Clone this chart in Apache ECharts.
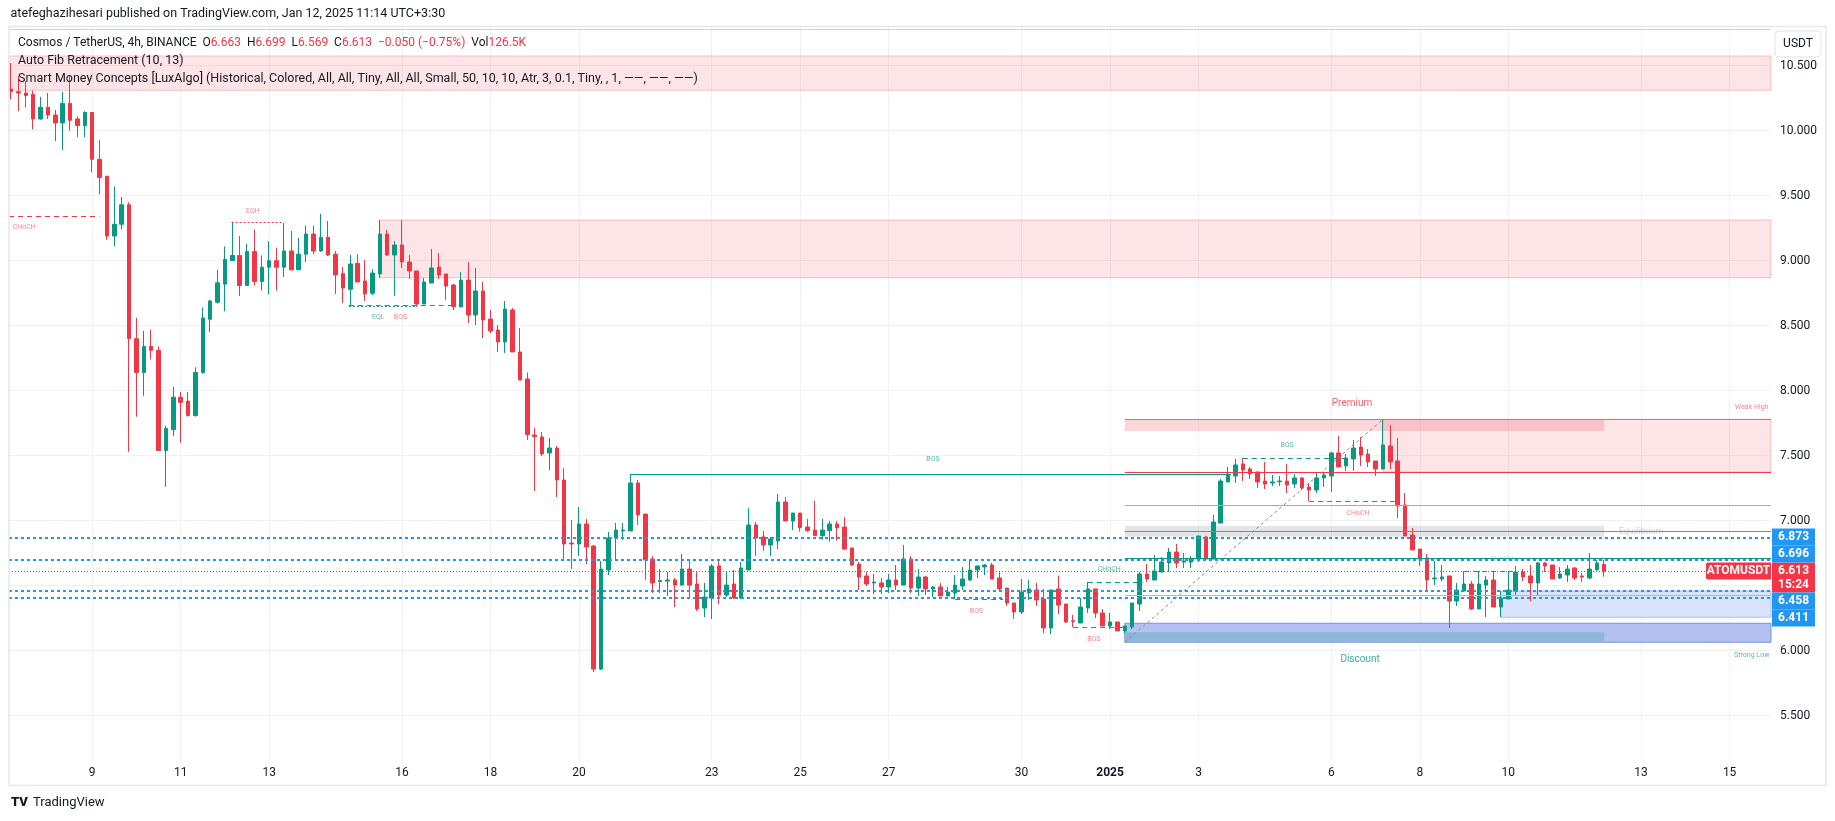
<!DOCTYPE html>
<html>
<head>
<meta charset="utf-8">
<title>ATOMUSDT 4h</title>
<script src="https://cdn.jsdelivr.net/npm/echarts@6/dist/echarts.min.js"></script>
<style>
  html, body { margin: 0; padding: 0; background: #ffffff; }
  #chart { width: 1835px; height: 821px; }
</style>
</head>
<body>
<div id="chart"></div>
<script>
// 4h candles, index 0 = first bar at the left edge
const opens = [
  10.32, 10.30, 10.29, 10.28, 10.09, 10.18, 10.12, 10.06, 10.21, 10.09,
  10.04, 10.14, 9.78, 9.65, 9.19, 9.28, 9.43, 8.40, 8.14, 8.34,
  8.31, 7.54, 7.70, 7.95, 7.92, 7.81, 8.14, 8.55, 8.68, 8.82,
  9.00, 9.04, 8.81, 9.07, 8.84, 8.95, 9.00, 8.95, 9.075, 8.93,
  9.05, 9.205, 9.075, 9.18, 9.05, 8.90, 8.78, 8.98, 8.844, 8.75,
  8.898, 9.205, 9.044, 9.121, 8.99, 8.921, 8.667, 8.828, 8.951, 8.898,
  8.813, 8.644, 8.851, 8.582, 8.767, 8.551, 8.467, 8.375, 8.621, 8.298,
  8.090, 7.659, 7.644, 7.521, 7.559, 7.313, 6.828, 6.821, 6.975, 6.805,
  5.859, 6.621, 6.867, 6.921, 6.921, 7.290, 7.051, 6.705, 6.533, 6.536,
  6.544, 6.505, 6.628, 6.513, 6.328, 6.405, 6.651, 6.428, 6.513, 6.405,
  6.621, 6.967, 6.875, 6.813, 6.844, 7.144, 6.998, 7.059, 6.951, 6.928,
  6.885, 6.923, 6.975, 6.951, 6.790, 6.667, 6.575, 6.521, 6.521, 6.490,
  6.544, 6.505, 6.705, 6.482, 6.567, 6.475, 6.490, 6.421, 6.444, 6.498,
  6.544, 6.621, 6.644, 6.659, 6.559, 6.482, 6.367, 6.298, 6.444, 6.467,
  6.398, 6.175, 6.475, 6.359, 6.230, 6.213, 6.328, 6.475, 6.290, 6.190,
  6.221, 6.152, 6.182, 6.359, 6.590, 6.544, 6.605, 6.675, 6.759, 6.682,
  6.682, 6.705, 6.875, 6.705, 6.982, 7.298, 7.344, 7.436, 7.398, 7.375,
  7.305, 7.290, 7.300, 7.305, 7.282, 7.329, 7.259, 7.236, 7.329, 7.344,
  7.521, 7.421, 7.475, 7.567, 7.513, 7.459, 7.398, 7.575, 7.459, 7.121,
  6.890, 6.782, 6.713, 6.552, 6.552, 6.575, 6.382, 6.459, 6.513, 6.321,
  6.505, 6.544, 6.336, 6.398, 6.459, 6.605, 6.575, 6.521, 6.675, 6.659,
  6.559, 6.582, 6.636, 6.575, 6.559, 6.621, 6.663
];
const highs = [
  10.52, 10.42, 10.38, 10.31, 10.26, 10.29, 10.16, 10.30, 10.42, 10.11,
  10.15, 10.14, 9.93, 9.65, 9.57, 9.49, 9.45, 8.56, 8.46, 8.47,
  8.34, 7.73, 8.03, 7.99, 7.99, 8.18, 8.64, 8.70, 8.93, 9.11,
  9.30, 9.19, 9.13, 9.24, 9.04, 9.15, 9.10, 9.29, 9.23, 9.175,
  9.27, 9.27, 9.36, 9.305, 9.075, 8.95, 9.044, 9.05, 9.005, 8.936,
  9.313, 9.236, 9.151, 9.313, 9.044, 8.921, 8.867, 9.090, 9.059, 8.898,
  8.821, 8.913, 8.990, 8.944, 8.836, 8.621, 8.505, 8.690, 8.636, 8.482,
  8.140, 7.713, 7.682, 7.636, 7.575, 7.405, 7.005, 7.105, 7.013, 6.813,
  6.690, 6.913, 6.982, 6.982, 7.359, 7.313, 7.051, 6.728, 6.628, 6.605,
  6.559, 6.744, 6.705, 6.605, 6.521, 6.667, 6.690, 6.605, 6.621, 6.682,
  7.098, 6.990, 6.921, 6.875, 7.205, 7.182, 7.059, 7.059, 7.013, 7.152,
  7.013, 6.998, 6.998, 7.028, 6.790, 6.682, 6.605, 6.590, 6.559, 6.590,
  6.659, 6.813, 6.728, 6.628, 6.575, 6.498, 6.521, 6.490, 6.582, 6.644,
  6.690, 6.652, 6.667, 6.675, 6.605, 6.482, 6.367, 6.551, 6.544, 6.521,
  6.475, 6.467, 6.575, 6.359, 6.275, 6.405, 6.528, 6.475, 6.321, 6.290,
  6.221, 6.190, 6.367, 6.605, 6.667, 6.736, 6.721, 6.790, 6.821, 6.751,
  6.728, 6.882, 6.882, 7.044, 7.321, 7.413, 7.475, 7.482, 7.413, 7.375,
  7.452, 7.352, 7.344, 7.436, 7.359, 7.336, 7.290, 7.375, 7.375, 7.530,
  7.652, 7.513, 7.621, 7.644, 7.552, 7.459, 7.782, 7.736, 7.636, 7.213,
  6.944, 6.782, 6.744, 6.690, 6.659, 6.575, 6.521, 6.613, 6.536, 6.613,
  6.575, 6.613, 6.459, 6.613, 6.651, 6.628, 6.659, 6.682, 6.682, 6.659,
  6.644, 6.659, 6.644, 6.598, 6.751, 6.698, 6.699
];
const lows = [
  10.24, 10.15, 10.18, 10.01, 10.085, 10.09, 9.92, 9.85, 10.00, 9.95,
  9.95, 9.68, 9.51, 9.16, 9.11, 9.24, 7.53, 7.80, 7.96, 8.24,
  7.54, 7.26, 7.65, 7.60, 7.80, 7.80, 8.13, 8.45, 8.67, 8.61,
  9.00, 8.73, 8.81, 8.81, 8.77, 8.74, 8.77, 8.875, 8.925, 8.93,
  8.99, 9.05, 9.067, 9.036, 8.744, 8.675, 8.66, 8.836, 8.690, 8.736,
  8.867, 9.036, 8.728, 8.944, 8.859, 8.644, 8.667, 8.828, 8.859, 8.698,
  8.621, 8.644, 8.521, 8.505, 8.405, 8.444, 8.298, 8.290, 8.298, 8.082,
  7.621, 7.229, 7.498, 7.390, 7.182, 6.698, 6.628, 6.728, 6.667, 5.836,
  5.851, 6.582, 6.705, 6.852, 6.921, 6.967, 6.544, 6.444, 6.444, 6.421,
  6.336, 6.505, 6.413, 6.305, 6.259, 6.244, 6.359, 6.413, 6.398, 6.398,
  6.621, 6.728, 6.767, 6.728, 6.782, 6.998, 6.928, 6.915, 6.915, 6.885,
  6.854, 6.839, 6.846, 6.775, 6.652, 6.467, 6.498, 6.436, 6.436, 6.444,
  6.467, 6.505, 6.444, 6.421, 6.428, 6.413, 6.421, 6.421, 6.398, 6.467,
  6.536, 6.559, 6.582, 6.551, 6.467, 6.344, 6.244, 6.282, 6.390, 6.344,
  6.136, 6.128, 6.282, 6.213, 6.182, 6.213, 6.290, 6.252, 6.190, 6.167,
  6.152, 6.136, 6.167, 6.305, 6.528, 6.544, 6.605, 6.605, 6.636, 6.636,
  6.636, 6.682, 6.705, 6.705, 6.982, 7.298, 7.290, 7.305, 7.321, 7.252,
  7.244, 7.267, 7.267, 7.213, 7.252, 7.236, 7.152, 7.213, 7.259, 7.221,
  7.413, 7.382, 7.382, 7.421, 7.413, 7.344, 7.398, 7.398, 7.021, 6.882,
  6.775, 6.652, 6.467, 6.505, 6.536, 6.175, 6.344, 6.452, 6.313, 6.321,
  6.259, 6.336, 6.259, 6.398, 6.421, 6.536, 6.382, 6.428, 6.605, 6.552,
  6.552, 6.528, 6.544, 6.528, 6.552, 6.621, 6.569
];
const closes = [
  10.30, 10.29, 10.27, 10.09, 10.18, 10.12, 10.06, 10.21, 10.08, 10.04,
  10.14, 9.78, 9.64, 9.19, 9.28, 9.43, 8.40, 8.14, 8.34, 8.31,
  7.54, 7.71, 7.95, 7.91, 7.81, 8.14, 8.56, 8.69, 8.83, 9.01,
  9.04, 8.81, 9.07, 8.84, 8.95, 9.00, 8.95, 9.075, 8.93, 9.05,
  9.205, 9.075, 9.18, 9.044, 8.89, 8.79, 8.975, 8.836, 8.744, 8.905,
  9.205, 9.044, 9.121, 8.990, 8.921, 8.667, 8.836, 8.944, 8.890, 8.805,
  8.646, 8.851, 8.582, 8.767, 8.544, 8.459, 8.375, 8.628, 8.298, 8.082,
  7.662, 7.647, 7.513, 7.559, 7.313, 6.821, 6.821, 6.975, 6.798, 5.859,
  6.628, 6.867, 6.928, 6.928, 7.290, 7.044, 6.698, 6.521, 6.540, 6.544,
  6.505, 6.628, 6.505, 6.321, 6.413, 6.651, 6.428, 6.505, 6.405, 6.636,
  6.967, 6.867, 6.813, 6.859, 7.144, 6.998, 7.059, 6.946, 6.923, 6.885,
  6.928, 6.975, 6.946, 6.782, 6.659, 6.567, 6.513, 6.528, 6.490, 6.544,
  6.505, 6.705, 6.482, 6.567, 6.475, 6.490, 6.421, 6.451, 6.505, 6.551,
  6.621, 6.652, 6.659, 6.551, 6.475, 6.367, 6.298, 6.451, 6.475, 6.390,
  6.175, 6.467, 6.351, 6.221, 6.225, 6.336, 6.475, 6.290, 6.190, 6.221,
  6.152, 6.190, 6.367, 6.590, 6.552, 6.613, 6.682, 6.759, 6.675, 6.690,
  6.705, 6.882, 6.705, 6.990, 7.305, 7.359, 7.429, 7.390, 7.359, 7.298,
  7.282, 7.298, 7.305, 7.275, 7.329, 7.252, 7.236, 7.329, 7.352, 7.521,
  7.413, 7.482, 7.559, 7.505, 7.452, 7.398, 7.582, 7.452, 7.113, 6.882,
  6.775, 6.705, 6.544, 6.559, 6.567, 6.382, 6.467, 6.513, 6.321, 6.513,
  6.544, 6.336, 6.405, 6.467, 6.605, 6.567, 6.521, 6.675, 6.651, 6.552,
  6.590, 6.628, 6.559, 6.567, 6.628, 6.675, 6.613
];

// time scale: bar index of each day tick and its label
const dayTicks = [11, 23, 35, 53, 65, 77, 95, 107, 119, 137, 149, 161, 179, 191, 203, 221, 233];
const dayLabels = ['9', '11', '13', '16', '18', '20', '23', '25', '27', '30', '2025', '3', '6', '8', '10', '13', '15'];
const priceTicks = [5.5, 6, 6.5, 7, 7.5, 8, 8.5, 9, 9.5, 10, 10.5];

// levels drawn over the whole width
const fibLevels = [6.873, 6.696, 6.458, 6.411];
const lastPrice = 6.613;
const countdown = '15:24';

// smart money concepts: structure breaks [fromBar, toBar, price, text, side, labelBar, labelPrice]
const structures = [
  [-1, 12, 9.344, 'CHoCH', 'bear', 1.8, 9.258],
  [29.9, 36.9, 9.295, 'EQH', 'bear', 32.8, 9.377],
  [45.8, 55, 8.651, 'EQL', 'bull', 49.8, 8.562],
  [45.8, 59.7, 8.657, 'BOS', 'bear', 52.8, 8.562],
  [84, 165.4, 7.357, 'BOS', 'bull', 125, 7.476],
  [128, 134.5, 6.398, 'BOS', 'bear', 130.9, 6.300],
  [144, 151, 6.180, 'BOS', 'bear', 146.8, 6.090],
  [146, 153.4, 6.526, 'CHoCH', 'bull', 148.9, 6.623],
  [167, 181.5, 7.480, 'BOS', 'bull', 173, 7.580],
  [176, 187.6, 7.152, 'CHoCH', 'bear', 182.6, 7.057],
  [197, 203.6, 6.610, 'CHoCH', 'bull', 202.1, 6.703]
];
// order blocks / zones [fromBar, toBar (null = right edge), top, bottom]
const supplyZones = [[-1, null, 10.575, 10.311], [50, null, 9.313, 8.869], [186, null, 7.78, 7.375]];
const demandZones = [[202, null, 6.459, 6.257]];
// premium / equilibrium / discount ranges starting at the swing low bar
const rangeStart = 151, rangeBoxEnd = 216;
const premium = [7.78, 7.69];
const equilibrium = [6.959, 6.877];
const discount = [6.211, 6.065];
const discountCore = [6.141, 6.065];
const rangeLines = { top: 7.78, ob: 7.375, fib1: 7.115, eq: 6.918, fib2: 6.708, fib3: 6.426 };
const swingLine = [[151, 6.065], [186, 7.78]];
const topLine = 10.78;

const FONT = 'Roboto, "Noto Sans", sans-serif';
const UP = '#089981', DOWN = '#f23645';
const X_MIN = -0.271, X_MAX = 238.61;
const Y_MIN = 5.1592, Y_MAX = 10.7977;

const chart = echarts.init(document.getElementById('chart'));

const candles = opens.map((o, i) => [i, o, closes[i], lows[i], highs[i]]);

function seg(x0, x1, y, style) {
  return [{ coord: [Math.max(x0, X_MIN), y], lineStyle: style }, { coord: [x1 === null ? X_MAX : x1, y] }];
}
function box(x0, x1, top, bottom, style) {
  return [{ coord: [Math.max(x0, X_MIN), top], itemStyle: style }, { coord: [x1 === null ? X_MAX : x1, bottom] }];
}

const sideColor = { bear: DOWN, bull: UP };
const areaData = [];
supplyZones.forEach(z => areaData.push(box(z[0], z[1], z[2], z[3], { color: 'rgba(242,54,69,0.13)', borderColor: 'rgba(242,54,69,0.28)', borderWidth: 1 })));
areaData.push(box(rangeStart, rangeBoxEnd, premium[0], premium[1], { color: 'rgba(242,54,69,0.2)' }));
areaData.push(box(rangeStart, rangeBoxEnd, equilibrium[0], equilibrium[1], { color: 'rgba(120,123,134,0.2)' }));
areaData.push(box(rangeStart, null, discount[0], discount[1], { color: '#b2c1f2', borderColor: '#7d92d8', borderWidth: 1 }));
areaData.push(box(rangeStart, rangeBoxEnd, discountCore[0], discountCore[1], { color: '#8fb6d8' }));
demandZones.forEach(z => areaData.push(box(z[0], z[1], z[2], z[3], { color: '#d7e4fb', borderColor: '#a9c4f3', borderWidth: 1 })));

const lineData = [];
lineData.push(seg(X_MIN, null, topLine, { color: 'rgba(242,54,69,0.3)', width: 1, type: 'solid' }));
lineData.push(seg(rangeStart, null, rangeLines.top, { color: '#8a8fae', width: 1, type: 'solid' }));
lineData.push(seg(rangeStart, null, rangeLines.ob, { color: DOWN, width: 1, type: 'solid' }));
lineData.push(seg(rangeStart, null, rangeLines.fib1, { color: '#81c784', width: 1, type: 'solid' }));
lineData.push(seg(rangeStart, null, rangeLines.eq, { color: '#4caf50', width: 1, type: 'solid' }));
lineData.push(seg(rangeStart, null, rangeLines.fib2, { color: UP, width: 1, type: 'solid' }));
lineData.push(seg(rangeStart, null, rangeLines.fib3, { color: '#90bff9', width: 1, type: 'solid' }));
lineData.push([{ coord: swingLine[0], lineStyle: { color: '#868993', width: 1, type: [3, 3] } }, { coord: swingLine[1] }]);
structures.forEach(s => {
  let type = [5, 4];
  if (s[3] === 'EQH' || s[3] === 'EQL') type = [2, 2];
  if (s[3] === 'BOS' && s[4] === 'bull' && s[1] - s[0] > 50) type = 'solid';
  lineData.push(seg(s[0], s[1], s[2], { color: sideColor[s[4]], width: 1, type: type }));
});
fibLevels.forEach(v => lineData.push({ yAxis: v, lineStyle: { color: '#2196f3', width: 2, type: [3, 3] } }));
lineData.push({ yAxis: lastPrice, lineStyle: { color: DOWN, width: 1, type: [1, 2] } });

const textData = structures.map(s => ({
  value: [s[5], s[6]], name: s[3],
  label: { color: s[4] === 'bear' ? 'rgba(242,54,69,0.75)' : (s[0] > 190 ? 'rgba(8,153,129,0.45)' : 'rgba(8,153,129,0.85)'), fontSize: 7 }
}));
textData.push({ value: [181.8, 7.898], name: 'Premium', label: { color: DOWN, fontSize: 10 } });
textData.push({ value: [182.9, 5.936], name: 'Discount', label: { color: UP, fontSize: 10 } });
textData.push({ value: [221, 6.913], name: 'Equilibrium', label: { color: 'rgba(120,123,134,0.45)', fontSize: 9 } });
textData.push({ value: [236, 7.872], name: 'Weak High', label: { color: 'rgba(242,54,69,0.8)', fontSize: 7 } });
textData.push({ value: [236, 5.962], name: 'Strong Low', label: { color: 'rgba(8,153,129,0.85)', fontSize: 7 } });

const dayMap = {};
dayTicks.forEach((t, i) => { dayMap[t] = dayLabels[i]; });

const option = {
  animation: false,
  backgroundColor: '#ffffff',
  textStyle: { fontFamily: FONT },
  grid: { left: 9, right: 64, top: 27, bottom: 61, show: false },
  xAxis: {
    type: 'value', min: X_MIN, max: X_MAX,
    axisLine: { show: false },
    axisTick: { show: false, customValues: dayTicks },
    axisLabel: {
      customValues: dayTicks, margin: 7, color: '#131722', fontSize: 12, fontFamily: FONT,
      formatter: v => {
        const s = dayMap[Math.round(v)] || '';
        return s === '2025' ? '{b|' + s + '}' : s;
      },
      rich: { b: { fontWeight: 'bold', fontSize: 12, color: '#131722', fontFamily: FONT } }
    },
    splitLine: { show: true, lineStyle: { color: '#f0f1f4', width: 1 } }
  },
  yAxis: {
    type: 'value', position: 'right', min: Y_MIN, max: Y_MAX,
    axisLine: { show: false },
    axisTick: { show: false, customValues: priceTicks },
    axisLabel: {
      customValues: priceTicks, margin: 9, color: '#131722', fontSize: 12, fontFamily: FONT,
      formatter: v => v.toFixed(3)
    },
    splitLine: { show: true, lineStyle: { color: '#f0f1f4', width: 1 } }
  },
  series: [
    {
      name: 'zones', type: 'line', data: [], z: 1, silent: true,
      markArea: { silent: true, label: { show: false }, data: areaData }
    },
    {
      name: 'levels', type: 'line', data: [], z: 2, silent: true,
      markLine: { silent: true, symbol: ['none', 'none'], label: { show: false }, data: lineData }
    },
    {
      name: 'ATOMUSDT', type: 'candlestick', z: 3, barWidth: 4,
      data: candles,
      itemStyle: { color: UP, color0: DOWN, borderColor: UP, borderColor0: DOWN, borderWidth: 1 }
    },
    {
      name: 'smc labels', type: 'scatter', z: 4, silent: true, symbolSize: 1,
      itemStyle: { color: 'rgba(0,0,0,0)' },
      label: { show: true, position: 'inside', formatter: '{b}', fontFamily: FONT },
      data: textData
    }
  ]
};
chart.setOption(option);

function buildGraphics() {
  const py = v => chart.convertToPixel({ yAxisIndex: 0 }, v);
  const els = [];
  const T = (x, y, text, extra) => Object.assign({
    type: 'text', x: x, y: y, z: 120,
    style: Object.assign({ text: text, fill: '#131722', font: '12px ' + FONT, verticalAlign: 'middle' }, extra || {})
  });

  // outer frame
  els.push({ type: 'rect', z: 90, shape: { x: 9, y: 26.5, width: 1817, height: 759 }, style: { fill: 'none', stroke: '#e4e7ee', lineWidth: 1.5 } });

  // header + legend
  els.push(T(10.5, 14, 'atefeghazihesari published on TradingView.com, Jan 12, 2025 11:14 UTC+3:30', { font: '12.5px ' + FONT }));
  els.push(T(18, 42.5,
    'Cosmos / TetherUS, 4h, BINANCE  O{r|6.663}  H{r|6.699}  L{r|6.569}  C{r|6.613}  {r|\u22120.050 (\u22120.75%)}  Vol{r|126.5K}',
    { font: '12px ' + FONT, rich: { r: { fill: DOWN, font: '12px ' + FONT } } }));
  els.push(T(18, 60.5, 'Auto Fib Retracement (10, 13)', { font: '12.5px ' + FONT }));
  els.push(T(18, 78.5, 'Smart Money Concepts [LuxAlgo] (Historical, Colored, All, All, Tiny, All, All, Small, 50, 10, 10, Atr, 3, 0.1, Tiny, , 1, \u2014\u2014, \u2014\u2014, \u2014\u2014)', { font: '12.5px ' + FONT }));

  // currency button
  els.push({ type: 'rect', z: 120, shape: { x: 1775, y: 31, width: 46, height: 26, r: 4 }, style: { fill: '#ffffff', stroke: '#e0e3eb', lineWidth: 1 } });
  els.push(T(1798, 44, 'USDT', { align: 'center' }));

  // price tags on the right scale
  const yc = py(lastPrice);
  const redTop = yc - 8.5, redBot = yc + 21.5;
  els.push({ type: 'rect', z: 110, shape: { x: 1772, y: redTop, width: 43, height: 30 }, style: { fill: DOWN } });
  els.push(T(1793.5, yc, lastPrice.toFixed(3), { fill: '#ffffff', align: 'center', font: 'bold 12px ' + FONT }));
  els.push(T(1793.5, yc + 13.5, countdown, { fill: '#ffffff', align: 'center', font: 'bold 12px ' + FONT }));
  els.push({ type: 'rect', z: 110, shape: { x: 1706, y: yc - 8.5, width: 65, height: 17, r: [2, 0, 0, 2] }, style: { fill: DOWN } });
  els.push(T(1738.5, yc, 'ATOMUSDT', { fill: '#ffffff', align: 'center', font: 'bold 12px ' + FONT }));

  const upper = fibLevels.filter(v => v > lastPrice).sort((a, b) => a - b);
  let top = redTop;
  upper.forEach(v => {
    const c = Math.min(py(v), top - 8.5);
    els.push({ type: 'rect', z: 110, shape: { x: 1772, y: c - 8.5, width: 43, height: 17 }, style: { fill: '#2196f3' } });
    els.push(T(1793.5, c, v.toFixed(3), { fill: '#ffffff', align: 'center', font: 'bold 12px ' + FONT }));
    top = c - 8.5;
  });
  const lower = fibLevels.filter(v => v < lastPrice).sort((a, b) => b - a);
  let bottom = redBot;
  lower.forEach(v => {
    const c = Math.max(py(v), bottom + 8.5);
    els.push({ type: 'rect', z: 110, shape: { x: 1772, y: c - 8.5, width: 43, height: 17 }, style: { fill: '#2196f3' } });
    els.push(T(1793.5, c, v.toFixed(3), { fill: '#ffffff', align: 'center', font: 'bold 12px ' + FONT }));
    bottom = c + 8.5;
  });

  // TradingView mark
  els.push(T(11, 803, 'TV', { font: '900 13px ' + FONT, fill: '#131722' }));
  els.push(T(33, 803, 'TradingView', { font: '13px ' + FONT, fill: '#131722' }));
  return els;
}

chart.setOption({ graphic: { elements: buildGraphics() } });
window.addEventListener('resize', () => chart.resize());
</script>
</body>
</html>
